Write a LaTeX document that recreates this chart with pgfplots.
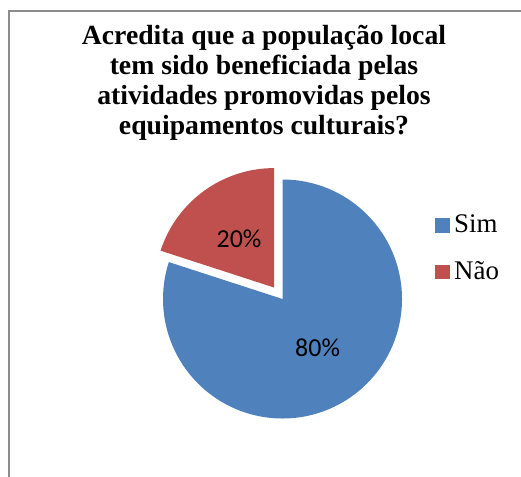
\documentclass[border=0pt]{standalone}
\usepackage{pgfplots}
\usepackage{pgfplotstable}
\pgfplotsset{compat=1.18}
\usepackage{fontspec}
\setmainfont{Liberation Serif}
\newfontfamily\carlito{Carlito}
\definecolor{simblue}{HTML}{4F81BD}
\definecolor{naored}{HTML}{C0504D}
\definecolor{framegray}{HTML}{8C8C8C}

\pgfplotstableread{
label value
Sim 80
Nao 20
}\piedata

\begin{document}
\begin{tikzpicture}[x=1bp,y=1bp]
\useasboundingbox (0,0) rectangle (521,-477);
\draw[framegray,line width=2bp] (8.7,-477) -- (8.7,-11) -- (521,-11);
\node[anchor=north,align=center,inner sep=0pt,font=\bfseries\fontsize{27.8}{30}\selectfont]
  at (264,-25) {Acredita que a população local\\tem sido beneficiada pelas\\atividades promovidas pelos\\equipamentos culturais?};

\pgfplotstablegetelem{0}{value}\of\piedata \edef\vA{\pgfplotsretval}
\pgfplotstablegetelem{1}{value}\of\piedata \edef\vB{\pgfplotsretval}
\pgfmathsetmacro\endA{90-3.6*\vA}
\pgfmathsetmacro\startB{\endA+360}
\pgfmathsetmacro\midA{90-1.8*\vA}
\pgfmathsetmacro\midB{\startB-1.8*\vB}
\pgfmathsetmacro\sx{0.118*cos(\midB)}
\pgfmathsetmacro\sy{0.118*sin(\midB)}

\begin{axis}[at={(282.5bp,-299bp)},anchor=center,scale only axis,
  width=239bp,height=239bp,xmin=-1,xmax=1,ymin=-1,ymax=1,
  hide axis,clip=false]
  \fill[simblue] (axis cs:0,0) -- (axis cs:0,1) arc[start angle=90,end angle=\endA,radius=1] -- cycle;
  \fill[naored] (axis cs:\sx,\sy) -- ++(axis direction cs:{cos(\startB)},{sin(\startB)}) arc[start angle=\startB,end angle=90,radius=1] -- cycle;
  \node[font=\carlito\fontsize{26}{30}\selectfont] at (axis cs:{0.5*cos(\midA)},{0.5*sin(\midA)}) {\vA\%};
  \node[font=\carlito\fontsize{26}{30}\selectfont] at (axis cs:{\sx+0.5*cos(\midB)},{\sy+0.5*sin(\midB)}) {\vB\%};
\end{axis}

\fill[simblue] (435,-218) rectangle (449.5,-232.5);
\node[anchor=base west,inner sep=0pt,font=\fontsize{27}{30}\selectfont] at (454,-232.5) {Sim};
\fill[naored] (435,-264.5) rectangle (449.5,-279);
\node[anchor=base west,inner sep=0pt,font=\fontsize{27}{30}\selectfont] at (454,-279) {Não};
\end{tikzpicture}
\end{document}
